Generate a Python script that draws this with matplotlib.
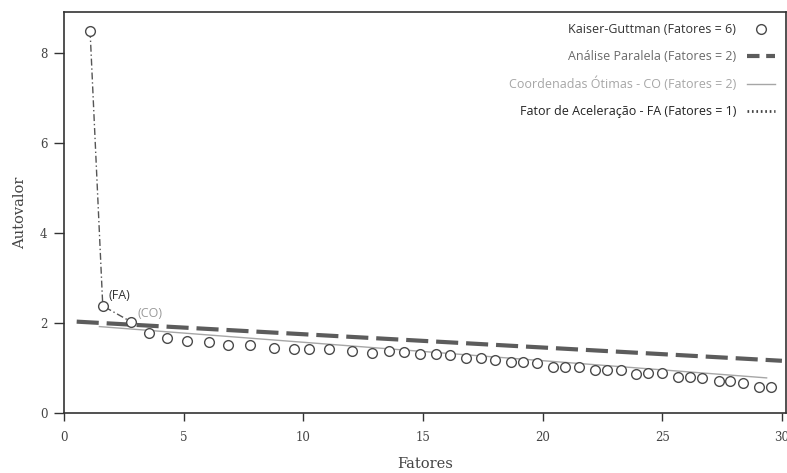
import matplotlib
matplotlib.use("Agg")
import matplotlib.pyplot as plt
from matplotlib.lines import Line2D

# ---- data ----
fatores = [1.09, 1.62, 2.79, 3.57, 4.29, 5.14, 6.05, 6.87, 7.76, 8.78, 9.60, 10.22,
           11.07, 12.02, 12.86, 13.57, 14.21, 14.89, 15.56, 16.13, 16.80, 17.41,
           18.02, 18.67, 19.17, 19.78, 20.45, 20.95, 21.53, 22.19, 22.69, 23.26,
           23.92, 24.42, 25.00, 25.66, 26.16, 26.67, 27.36, 27.84, 28.37, 29.04, 29.56]
autovalores = [8.49, 2.38, 2.03, 1.77, 1.67, 1.60, 1.57, 1.52, 1.50, 1.45, 1.42, 1.42,
               1.42, 1.38, 1.34, 1.37, 1.35, 1.32, 1.31, 1.28, 1.23, 1.22,
               1.17, 1.14, 1.14, 1.10, 1.02, 1.02, 1.02, 0.95, 0.95, 0.96,
               0.87, 0.88, 0.89, 0.79, 0.79, 0.77, 0.70, 0.70, 0.67, 0.58, 0.58]

paralela_x = [0.53, 30.0]
paralela_y = [2.03, 1.16]

co_x = [1.48, 29.36]
co_y = [1.92, 0.78]

fa_n = 3  # first points joined by the acceleration-factor line

legend_labels = ["Kaiser-Guttman (Fatores = 6)",
                 "Análise Paralela (Fatores = 2)",
                 "Coordenadas Ótimas - CO (Fatores = 2)",
                 "Fator de Aceleração - FA (Fatores = 1)"]
xticks = [0, 5, 10, 15, 20, 25, 30]
yticks = [0, 2, 4, 6, 8]

# ---- figure ----
fig = plt.figure(figsize=(7.87, 4.73), dpi=100)
ax = fig.add_axes([64 / 787, 1 - 413 / 473, (786 - 64) / 787, (413 - 12) / 473])

c_dark = "#4a4a4a"
c_par = "#5c5c5c"
c_co = "#a6a6a6"

ax.plot(paralela_x, paralela_y, color=c_par, lw=3.0, dashes=(5.3, 1.9),
        solid_capstyle="butt", dash_capstyle="butt", zorder=2)
ax.plot(co_x, co_y, color=c_co, lw=1.0, zorder=2)
ax.plot(fatores[:fa_n], autovalores[:fa_n], color="#555555", lw=1.0,
        dashes=(5, 2, 1, 2), zorder=3)
ax.plot(fatores, autovalores, linestyle="none", marker="o", markersize=7.0,
        markerfacecolor="white", markeredgecolor=c_dark, markeredgewidth=1.0, zorder=4)

sans = ["Open Sans", "DejaVu Sans"]
ax.text(1.84, 2.6, "(FA)", fontsize=9, color="#333333", family=sans, va="center", ha="left")
ax.text(3.09, 2.22, "(CO)", fontsize=9, color="#9a9a9a", family=sans, va="center", ha="left")

ax.set_xlim(0, 30.17)
ax.set_ylim(0, 8.91)
ax.set_xticks(xticks)
ax.set_yticks(yticks)

serif = ["DejaVu Serif"]
for lab in ax.get_xticklabels() + ax.get_yticklabels():
    lab.set_family(serif)
    lab.set_fontsize(8.5)
    lab.set_color("#444444")
ax.tick_params(axis="both", direction="out", color="#333333", width=1.0)
ax.tick_params(axis="x", length=6, pad=7)
ax.tick_params(axis="y", length=7, pad=5)
for s in ax.spines.values():
    s.set_color("#333333")
    s.set_linewidth(1.2)

ax.set_xlabel("Fatores", family=serif, fontsize=10.5, color="#444444", labelpad=9)
ax.set_ylabel("Autovalor", family=serif, fontsize=10.5, color="#444444", labelpad=9)

handles = [
    Line2D([], [], linestyle="none", marker="o", markersize=7.0,
           markerfacecolor="white", markeredgecolor=c_dark, markeredgewidth=1.0),
    Line2D([], [], color=c_par, lw=3.0, dashes=(3.0, 1.6)),
    Line2D([], [], color=c_co, lw=1.0),
    Line2D([], [], color="#444444", lw=2.0, dashes=(0.6, 1.0)),
]
leg = ax.legend(handles, legend_labels, loc="upper right", frameon=False,
                markerfirst=False, handlelength=2.2, handletextpad=0.9,
                labelspacing=1.1, borderaxespad=0.5,
                prop={"family": sans, "size": 9},
                labelcolor=["#333333", "#6a6a6a", "#a6a6a6", "#222222"])

fig.savefig("out.png", dpi=100)
